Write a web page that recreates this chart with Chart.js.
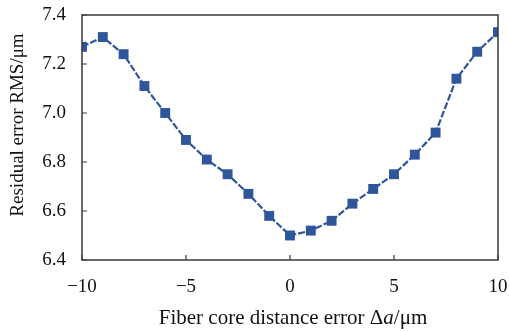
<!DOCTYPE html>
<html>
<head>
<meta charset="utf-8">
<script src="https://cdn.jsdelivr.net/npm/chart.js@4.4.1/dist/chart.umd.min.js"></script>
<style>
html, body { margin: 0; padding: 0; background: #fff; }
#wrap { width: 509px; height: 331px; }
</style>
</head>
<body>
<div id="wrap"><canvas id="grafico" width="509" height="331"></canvas></div>
<script>
// dados
let distancias = [-10, -9, -8, -7, -6, -5, -4, -3, -2, -1, 0, 1, 2, 3, 4, 5, 6, 7, 8, 9, 10];
let rms = [7.27, 7.31, 7.24, 7.11, 7.00, 6.89, 6.81, 6.75, 6.67, 6.58, 6.50, 6.52, 6.56, 6.63, 6.69, 6.75, 6.83, 6.92, 7.14, 7.25, 7.33];
let ticksX = [-10, -5, 0, 5, 10];
let ticksY = [6.4, 6.6, 6.8, 7.0, 7.2, 7.4];

let fonte = "'Liberation Serif', 'Times New Roman', serif";
let corTexto = '#111';
let corEixo = '#3a3a3a';

// moldura e marcas internas
let moldura = {
    id: 'moldura',
    afterDraw(chart) {
        let c = chart.ctx;
        let a = chart.chartArea;
        let sx = chart.scales.x;
        let sy = chart.scales.y;
        c.save();
        c.strokeStyle = corEixo;
        c.lineWidth = 1.5;
        c.strokeRect(a.left, a.top, a.right - a.left, a.bottom - a.top);
        c.lineWidth = 1.2;
        c.beginPath();
        ticksX.forEach(v => {
            let px = sx.getPixelForValue(v);
            c.moveTo(px, a.bottom);
            c.lineTo(px, a.bottom - 5);
        });
        ticksY.forEach(v => {
            let py = sy.getPixelForValue(v);
            c.moveTo(a.left, py);
            c.lineTo(a.left + 5, py);
        });
        c.stroke();

        // título do eixo x com "a" em itálico
        let partes = [
            { t: 'Fiber core distance error \u0394', f: '21px ' + fonte },
            { t: 'a', f: 'italic 21px ' + fonte },
            { t: '/\u03bcm', f: '21px ' + fonte }
        ];
        let total = 0;
        partes.forEach(p => { c.font = p.f; p.w = c.measureText(p.t).width; total += p.w; });
        let x0 = 293 - total / 2;
        c.fillStyle = corTexto;
        c.textBaseline = 'alphabetic';
        c.textAlign = 'left';
        partes.forEach(p => { c.font = p.f; c.fillText(p.t, x0, 324); x0 += p.w; });

        // título do eixo y
        c.font = '19px ' + fonte;
        c.translate(18, 125);
        c.rotate(-Math.PI / 2);
        c.textAlign = 'center';
        c.textBaseline = 'middle';
        c.fillText('Residual error RMS/\u03bcm', 0, 0);
        c.restore();
    }
};

let ctx = document.getElementById('grafico').getContext('2d');

let grafico = new Chart(ctx, {
    type: 'line',
    data: {
        labels: distancias,
        datasets: [{
            data: distancias.map((d, i) => ({ x: d, y: rms[i] })),
            borderColor: '#2f559a',
            backgroundColor: '#2f559a',
            borderWidth: 2.2,
            borderDash: [7, 2],
            pointStyle: 'rect',
            pointRadius: 7,
            pointBorderWidth: 0,
            tension: 0
        }]
    },
    options: {
        responsive: false,
        animation: false,
        layout: {
            padding: { top: 15, right: 11, left: 0, bottom: 0 }
        },
        plugins: {
            legend: { display: false },
            tooltip: { enabled: false }
        },
        scales: {
            x: {
                type: 'linear',
                min: -10,
                max: 10,
                afterFit(scale) {
                    scale.height = 71;
                    scale.paddingLeft = 0;
                    scale.paddingRight = 0;
                },
                afterBuildTicks(scale) { scale.ticks = ticksX.map(v => ({ value: v })); },
                grid: { display: false, drawTicks: false },
                border: { display: false },
                ticks: {
                    padding: 16,
                    color: corTexto,
                    font: { family: fonte, size: 19 },
                    callback: v => String(v).replace('-', '\u2212')
                }
            },
            y: {
                min: 6.4,
                max: 7.4,
                afterFit(scale) {
                    scale.width = 82;
                    scale.paddingTop = 0;
                    scale.paddingBottom = 0;
                },
                afterBuildTicks(scale) { scale.ticks = ticksY.map(v => ({ value: v })); },
                grid: { display: false, drawTicks: false },
                border: { display: false },
                ticks: {
                    padding: 16,
                    color: corTexto,
                    font: { family: fonte, size: 19 },
                    callback: v => v.toFixed(1)
                }
            }
        }
    },
    plugins: [moldura]
});
</script>
</body>
</html>
